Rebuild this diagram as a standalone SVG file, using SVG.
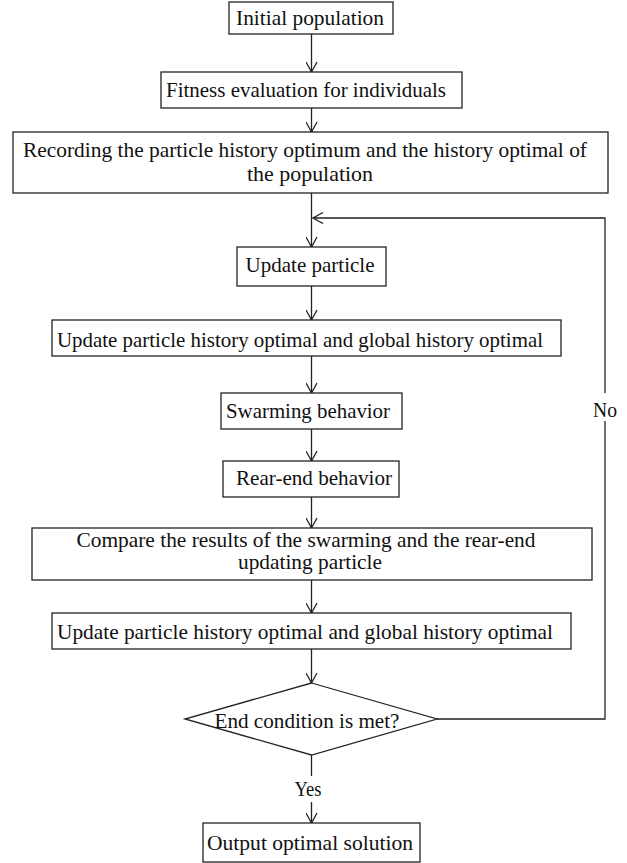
<svg xmlns="http://www.w3.org/2000/svg" width="627" height="863" viewBox="0 0 627 863">
<style>
.box{fill:#fff;stroke:#222;stroke-width:1.3}
.t{font-family:"Liberation Serif","Times New Roman",serif;font-size:21px;fill:#111;text-anchor:middle}
.c{fill:none;stroke:#222;stroke-width:1.3}
</style>
<defs>
<marker id="ah" viewBox="0 0 12 12" refX="11" refY="6" markerWidth="12" markerHeight="12" markerUnits="userSpaceOnUse" orient="auto">
<path d="M1,0.5 L11,6 L1,11.5" fill="none" stroke="#222" stroke-width="1.3"/>
</marker>
</defs>
<rect width="627" height="863" fill="#fff"/>
<g id="connectors">
<line class="c" x1="311.5" y1="34" x2="311.5" y2="72" marker-end="url(#ah)"/>
<line class="c" x1="311.5" y1="108" x2="311.5" y2="132" marker-end="url(#ah)"/>
<line class="c" x1="311.5" y1="193" x2="311.5" y2="247" marker-end="url(#ah)"/>
<line class="c" x1="311.5" y1="286" x2="311.5" y2="320" marker-end="url(#ah)"/>
<line class="c" x1="311.5" y1="356" x2="311.5" y2="393" marker-end="url(#ah)"/>
<line class="c" x1="311.5" y1="429" x2="311.5" y2="461" marker-end="url(#ah)"/>
<line class="c" x1="311.5" y1="497" x2="311.5" y2="528" marker-end="url(#ah)"/>
<line class="c" x1="311.5" y1="580" x2="311.5" y2="613" marker-end="url(#ah)"/>
<line class="c" x1="311.5" y1="649" x2="311.5" y2="683" marker-end="url(#ah)"/>
<line class="c" x1="311.5" y1="755" x2="311.5" y2="776"/>
<line class="c" x1="311.5" y1="802" x2="311.5" y2="823" marker-end="url(#ah)"/>
<polyline class="c" points="437,719 605,719 605,421"/>
<polyline class="c" points="605,393 605,218 313,218" marker-end="url(#ah)"/>
<text class="t" x="605" y="417" textLength="24" lengthAdjust="spacingAndGlyphs">No</text>
<text class="t" x="308" y="796" textLength="27" lengthAdjust="spacingAndGlyphs">Yes</text>
</g>
<g id="n1"><rect class="box" x="229" y="2" width="164" height="32"/><text class="t" x="310" y="25" textLength="148" lengthAdjust="spacingAndGlyphs">Initial population</text></g>
<g id="n2"><rect class="box" x="161" y="72" width="301" height="36"/><text class="t" x="306" y="97" textLength="280" lengthAdjust="spacingAndGlyphs">Fitness evaluation for individuals</text></g>
<g id="n3"><rect class="box" x="13" y="132" width="595" height="61"/><text class="t" x="305" y="157" textLength="564" lengthAdjust="spacingAndGlyphs">Recording the particle history optimum and the history optimal of</text><text class="t" x="310" y="181" textLength="126" lengthAdjust="spacingAndGlyphs">the population</text></g>
<g id="n4"><rect class="box" x="237" y="247" width="149" height="39"/><text class="t" x="310" y="272" textLength="129" lengthAdjust="spacingAndGlyphs">Update particle</text></g>
<g id="n5"><rect class="box" x="52" y="320" width="509" height="36"/><text class="t" x="300" y="347" textLength="486" lengthAdjust="spacingAndGlyphs">Update particle history optimal and global history optimal</text></g>
<g id="n6"><rect class="box" x="221" y="393" width="181" height="36"/><text class="t" x="308" y="418" textLength="164" lengthAdjust="spacingAndGlyphs">Swarming behavior</text></g>
<g id="n7"><rect class="box" x="223" y="461" width="176" height="36"/><text class="t" x="314" y="485" textLength="156" lengthAdjust="spacingAndGlyphs">Rear-end behavior</text></g>
<g id="n8"><rect class="box" x="32" y="528" width="560" height="52"/><text class="t" x="306" y="547" textLength="459" lengthAdjust="spacingAndGlyphs">Compare the results of the swarming and the rear-end</text><text class="t" x="310" y="569" textLength="144" lengthAdjust="spacingAndGlyphs">updating particle</text></g>
<g id="n9"><rect class="box" x="52" y="613" width="519" height="36"/><text class="t" x="305" y="639" textLength="496" lengthAdjust="spacingAndGlyphs">Update particle history optimal and global history optimal</text></g>
<g id="n10"><polygon class="box" points="311.5,683 437,719 311.5,755 185,719"/><text class="t" x="307" y="728" textLength="185" lengthAdjust="spacingAndGlyphs">End condition is met?</text></g>
<g id="n11"><rect class="box" x="203" y="823" width="217" height="39"/><text class="t" x="310" y="850" textLength="206" lengthAdjust="spacingAndGlyphs">Output optimal solution</text></g>
</svg>
